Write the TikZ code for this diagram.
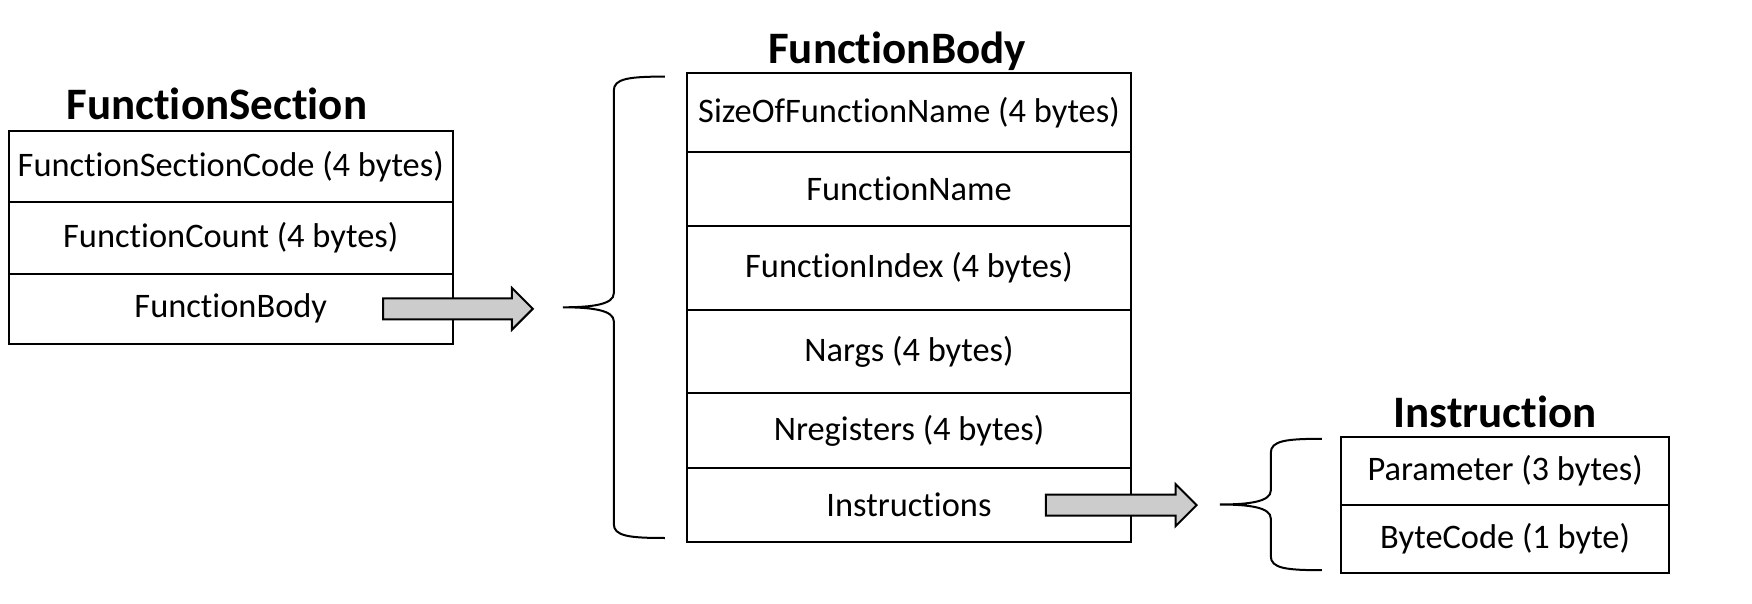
\documentclass[tikz,border=0pt]{standalone}
\usepackage{fontspec}
\setmainfont{Carlito}[Ligatures=NoCommon]
\usetikzlibrary{arrows.meta,positioning,calc,shapes.arrows}
\definecolor{arrowgrey}{HTML}{CCCCCC}
\tikzset{
  field/.style={draw, line width=1pt, outer sep=0pt, inner sep=0pt, align=center,
                font=\fontsize{17.2}{20}\selectfont},
  title/.style={font=\bfseries\fontsize{22.5}{26}\selectfont, inner sep=0pt, text depth=0pt},
  bigarrow/.style={single arrow, draw, fill=arrowgrey, line width=1pt, inner sep=4.75pt,
                   minimum width=20pt, single arrow head extend=5.25pt},
  bracket/.style={line width=1pt, to path={let \p1=(\tikztostart), \p2=(\tikztotarget),
      \n1={0.5*(\y1+\y2)} in
      .. controls (\x1-18pt,\y1) and (\x1-25.5pt,\y1-1pt) .. (\x1-25.5pt,\y1-7pt)
      -- (\x1-25.5pt,\n1+7pt)
      .. controls (\x1-25.5pt,\n1+1.5pt) and (\x1-36pt,\n1) .. (\x1-51pt,\n1)
      .. controls (\x1-36pt,\n1) and (\x1-25.5pt,\n1-1.5pt) .. (\x1-25.5pt,\n1-7pt)
      -- (\x1-25.5pt,\y2+7pt)
      .. controls (\x1-25.5pt,\y2+1pt) and (\x1-18pt,\y2) .. (\tikztotarget)}},
}

\begin{document}
\begin{tikzpicture}[x=1pt, y=-1pt]
        \useasboundingbox (0,0) rectangle (876,302);
        % FunctionSection
        \node[field, minimum width=221.8pt, minimum height=35.7pt, anchor=north west] (s1) at (4.5,65.4) {FunctionSectionCode (4 bytes)};
        \node[field, minimum width=221.8pt, minimum height=35.7pt, below=0pt of s1] (s2) {FunctionCount (4 bytes)};
        \node[field, minimum width=221.8pt, minimum height=35.2pt, below=0pt of s2] (s3) {FunctionBody};
        \node[title, above=5.5pt of s1, xshift=-7pt] (ts) {FunctionSection};
        % FunctionBody
        \node[field, minimum width=221.8pt, minimum height=39.7pt, anchor=north west] (b1) at (343.6,36.3) {SizeOfFunctionName (4 bytes)};
        \node[field, minimum width=221.8pt, minimum height=36.9pt, below=0pt of b1] (b2) {FunctionName};
        \node[field, minimum width=221.8pt, minimum height=41.9pt, below=0pt of b2] (b3) {FunctionIndex (4 bytes)};
        \node[field, minimum width=221.8pt, minimum height=41.9pt, below=0pt of b3] (b4) {Nargs (4 bytes)};
        \node[field, minimum width=221.8pt, minimum height=37.4pt, below=0pt of b4] (b5) {Nregisters (4 bytes)};
        \node[field, minimum width=221.8pt, minimum height=36.9pt, below=0pt of b5] (b6) {Instructions};
        \node[title, above=4.5pt of b1, xshift=-6pt] (tb) {FunctionBody};
        % Instruction
        \node[field, minimum width=164.3pt, minimum height=34.1pt, anchor=north west] (i1) at (670.4,218.4) {Parameter (3 bytes)};
        \node[field, minimum width=164.3pt, minimum height=34.1pt, below=0pt of i1] (i2) {ByteCode (1 byte)};
        \node[title, above=4.5pt of i1, xshift=-5pt] (ti) {Instruction};
        % arrows and braces
        \node[bigarrow, minimum height=74.8pt, anchor=tail] (a1) at ([xshift=-35.2pt]s3.east) {};
        \node[bigarrow, minimum height=75.4pt, anchor=tail] (a2) at ([xshift=-43pt]b6.east) {};
        \coordinate (u1) at ([xshift=-11.2pt, yshift=-2pt]b1.north west);
        \coordinate (l1) at ([xshift=-11.2pt, yshift=2pt]b6.south west);
        \coordinate (u2) at ([xshift=-9.5pt, yshift=-1pt]i1.north west);
        \coordinate (l2) at ([xshift=-9.5pt, yshift=1.5pt]i2.south west);
        \draw[bracket] (u1) to (l1); \draw[bracket] (u2) to (l2);
      \end{tikzpicture}
\end{document}
